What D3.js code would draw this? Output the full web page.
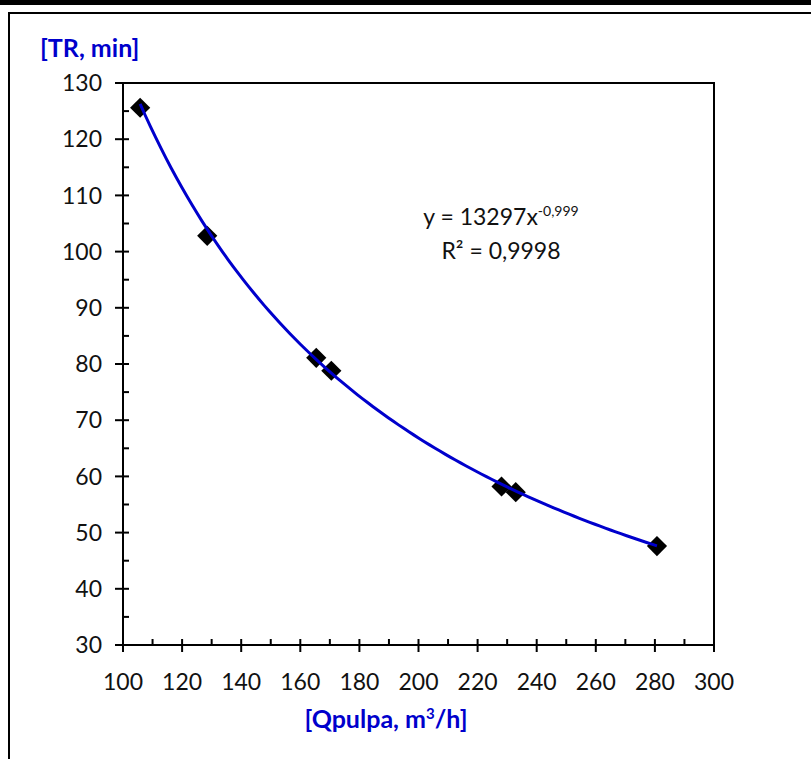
<!DOCTYPE html>
<html>
    <head>
        <meta charset="utf-8">
        <style>
            body { margin: 0; background: #fff; }
            svg { display: block; }
            text { font-family: Lato, "Open Sans", sans-serif; }
            .tick-label { font-size: 23px; fill: #111; }
            .title { fill: #0000cc; font-weight: bold; font-size: 25px; }
            .eq { font-size: 23px; fill: #111; }
        </style>
    </head>
    <body>
        <script src="https://d3js.org/d3.v7.min.js"></script>
        <script>
            // data
            var qpulpa = [105.8, 128.5, 165.4, 170.5, 228.1, 232.9, 280.7];
            var tr = [125.6, 102.8, 81.1, 78.8, 58.2, 57.2, 47.6];

            var xTicks = [100, 120, 140, 160, 180, 200, 220, 240, 260, 280, 300];
            var yTicks = [30, 40, 50, 60, 70, 80, 90, 100, 110, 120, 130];

            // trendline from the label (power fit)
            var coefA = 13297, coefB = -0.999;

            var W = 811, H = 759;
            var margin = {top: 83, right: 97, bottom: 114, left: 123},
                width = W - margin.left - margin.right,
                height = H - margin.top - margin.bottom;

            var svg = d3.select("body").append("svg")
                .attr("width", W)
                .attr("height", H);

            // outer frame bits
            svg.append("rect").attr("x", 0).attr("y", 0).attr("width", W).attr("height", 5).attr("fill", "#000");
            svg.append("path")
                .attr("d", "M9," + H + "V13H" + W)
                .attr("fill", "none")
                .attr("stroke", "#000")
                .attr("stroke-width", 2);

            var x = d3.scaleLinear().domain([100, 300]).range([0, width]);
            var y = d3.scaleLinear().domain([30, 130]).range([height, 0]);

            var g = svg.append("g")
                .attr("transform", "translate(" + margin.left + "," + margin.top + ")");

            // plot frame
            g.append("rect")
                .attr("width", width)
                .attr("height", height)
                .attr("fill", "none")
                .attr("stroke", "#000")
                .attr("stroke-width", 2);

            // minor ticks (inside)
            var xMinor = d3.range(110, 300, 20);
            var yMinor = d3.range(35, 130, 10);
            g.selectAll(".xminor").data(xMinor).enter().append("line")
                .attr("x1", function(d) { return x(d); })
                .attr("x2", function(d) { return x(d); })
                .attr("y1", height).attr("y2", height - 6)
                .attr("stroke", "#000").attr("stroke-width", 2);
            g.selectAll(".yminor").data(yMinor).enter().append("line")
                .attr("y1", function(d) { return y(d); })
                .attr("y2", function(d) { return y(d); })
                .attr("x1", 0).attr("x2", 6)
                .attr("stroke", "#000").attr("stroke-width", 2);

            // major ticks (cross)
            g.selectAll(".xmajor").data(xTicks).enter().append("line")
                .attr("x1", function(d) { return x(d); })
                .attr("x2", function(d) { return x(d); })
                .attr("y1", height - 6).attr("y2", height + 7)
                .attr("stroke", "#000").attr("stroke-width", 2);
            g.selectAll(".ymajor").data(yTicks).enter().append("line")
                .attr("y1", function(d) { return y(d); })
                .attr("y2", function(d) { return y(d); })
                .attr("x1", -8).attr("x2", 6)
                .attr("stroke", "#000").attr("stroke-width", 2);

            g.selectAll(".xlab").data(xTicks).enter().append("text")
                .attr("class", "tick-label")
                .attr("x", function(d) { return x(d); })
                .attr("y", height + 45)
                .attr("text-anchor", "middle")
                .text(function(d) { return d; });
            g.selectAll(".ylab").data(yTicks).enter().append("text")
                .attr("class", "tick-label")
                .attr("x", -21)
                .attr("y", function(d) { return y(d); })
                .attr("dy", "0.36em")
                .attr("text-anchor", "end")
                .text(function(d) { return d; });

            // trendline
            var xs = d3.range(0, 101).map(function(i) {
                return d3.min(qpulpa) + (d3.max(qpulpa) - d3.min(qpulpa)) * i / 100;
            });
            var line = d3.line()
                .x(function(d) { return x(d); })
                .y(function(d) { return y(coefA * Math.pow(d, coefB)); })
                .curve(d3.curveMonotoneX);

            // markers
            var diamond = d3.symbol().type(d3.symbolDiamond2).size(260);
            g.selectAll(".pt").data(qpulpa).enter().append("path")
                .attr("transform", function(d, i) { return "translate(" + x(d) + "," + y(tr[i]) + ")"; })
                .attr("d", diamond)
                .attr("fill", "#000");

            // line on top of the markers
            g.append("path")
                .datum(xs)
                .attr("fill", "none")
                .attr("stroke", "#0000cc")
                .attr("stroke-width", 3)
                .attr("d", line);

            // equation
            var eq = g.append("text").attr("class", "eq")
                .attr("x", 378).attr("y", 142).attr("text-anchor", "middle");
            eq.append("tspan").text("y = 13297x");
            eq.append("tspan").attr("dy", -9).style("font-size", "14px").text("-0,999");
            g.append("text").attr("class", "eq")
                .attr("x", 378).attr("y", 176).attr("text-anchor", "middle")
                .text("R² = 0,9998");

            // axis titles
            svg.append("text").attr("class", "title")
                .attr("x", 40).attr("y", 57)
                .text("[TR, min]");
            var xt = svg.append("text").attr("class", "title")
                .attr("x", 386).attr("y", 728)
                .attr("text-anchor", "middle");
            xt.append("tspan").text("[Qpulpa, m");
            xt.append("tspan").attr("dy", -9).style("font-size", "15px").text("3");
            xt.append("tspan").attr("dy", 9).text("/h]");
        </script>
    </body>
</html>
